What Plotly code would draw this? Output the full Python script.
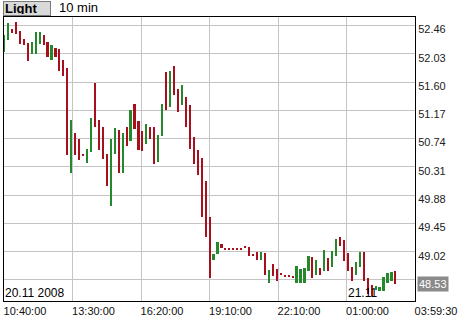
import plotly.graph_objects as go

# ---- data (10-minute bars, 20.11.2008 10:40 -> 21.11.2008) ----
opens = [52.06, 52.24, 52.41, 52.52, 52.38, 52.25, 52.20, 52.03, 52.03, 52.18,
         52.31, 52.21, 51.93, 52.12, 52.11, 51.94, 51.81, 50.21, 50.83, 50.73,
         50.50, 50.37, 50.53, 51.58, 51.02, 50.91, 50.51, 49.72, 50.50, 50.87,
         50.22, 50.91, 50.70, 51.27, 51.01, 50.85, 50.66, 50.92, 50.91, 50.39,
         50.78, 51.76, 51.22, 51.85, 51.49, 51.25, 51.38, 51.25, 50.77, 50.56,
         50.45, 50.10, 49.55, 48.89, 48.99, 49.13, 49.06, 49.07, 49.07, 49.06,
         49.07, 49.09, 49.09, 48.97, 49.02, 48.90, 49.00, 48.55, 48.83, 48.76,
         48.68, 48.66, 48.65, 48.64, 48.55, 48.55, 48.54, 48.72, 48.94, 48.66,
         48.77, 48.73, 48.93, 48.78, 48.95, 49.25, 49.20, 49.00, 48.79, 48.66,
         48.78, 49.01, 48.62, 48.52, 48.43, 48.42, 48.42, 48.54, 48.58, 48.72]
closes = [52.32, 52.50, 52.35, 52.33, 52.18, 52.17, 51.92, 52.21, 52.36, 52.36,
          52.17, 51.98, 52.16, 51.98, 51.77, 51.69, 50.49, 51.02, 50.49, 50.42,
          50.50, 50.58, 51.05, 50.92, 50.57, 50.43, 50.02, 50.73, 50.90, 50.22,
          50.82, 50.63, 51.17, 50.89, 50.57, 50.55, 50.97, 50.74, 50.36, 50.79,
          51.26, 51.17, 51.77, 51.41, 51.14, 51.55, 50.92, 50.58, 50.36, 50.19,
          49.55, 49.24, 48.62, 48.99, 49.16, 49.07, 49.06, 49.07, 49.07, 49.06,
          49.07, 49.09, 48.96, 48.97, 48.90, 49.02, 48.67, 48.74, 48.65, 48.58,
          48.68, 48.66, 48.65, 48.64, 48.80, 48.76, 48.77, 48.95, 48.62, 48.89,
          48.66, 49.04, 48.72, 49.03, 49.22, 49.11, 48.88, 48.73, 48.58, 48.87,
          49.01, 48.58, 48.37, 48.35, 48.50, 48.49, 48.63, 48.70, 48.71, 48.53]

x_tick_labels = ["10:40:00", "13:30:00", "16:20:00", "19:10:00",
                 "22:10:00", "01:00:00", "03:59:30"]
y_tick_labels = ["52.46", "52.03", "51.60", "51.17", "50.74",
                 "50.31", "49.88", "49.45", "49.02", "48.59"]
last_price = "48.53"
date_start = "20.11 2008"
date_next = "21.11"
interval_label = "10 min"
mode_label = "Light"

# ---- derived ----
n = len(opens)
idx = list(range(n))
tops = [max(o, c) for o, c in zip(opens, closes)]
bots = [min(o, c) for o, c in zip(opens, closes)]
MIN_H = 0.026
bases, heights = [], []
for t, b in zip(tops, bots):
    h = t - b
    if h < MIN_H:
        mid = (t + b) / 2
        bases.append(mid - MIN_H / 2)
        heights.append(MIN_H)
    else:
        bases.append(b)
        heights.append(h)
GREEN = "#23892a"
RED = "#a80f1c"
colors = [GREEN if c > o else RED for o, c in zip(opens, closes)]

x0, x1 = -0.075, 103.9
step = (x1 - x0) / 6
xtv = [x0 + k * step for k in range(7)]
xtv[0] += 0.001
xtv[-1] -= 0.001
ytv = [float(v) for v in y_tick_labels]

FONT = "Liberation Sans"

fig = go.Figure(go.Bar(
    x=idx, y=heights, base=bases, width=0.42,
    marker=dict(color=colors, line=dict(width=0)),
    hoverinfo="skip",
))

fig.update_layout(
    width=460, height=320,
    margin=dict(l=3, r=43, t=17, b=18),
    paper_bgcolor="white", plot_bgcolor="white",
    showlegend=False,
    font=dict(family=FONT, size=11, color="#222222"),
    xaxis=dict(
        range=[x0, x1], tickmode="array", tickvals=xtv, ticktext=x_tick_labels,
        showgrid=True, gridcolor="#c4c4c4", gridwidth=1, zeroline=False,
        showline=True, linecolor="black", linewidth=1, mirror=True,
        ticks="", ticklabelshift=21, tickfont=dict(size=11, color="#111111"),
        fixedrange=True,
    ),
    yaxis=dict(
        range=[48.27, 52.59], side="right", tickmode="array", tickvals=ytv,
        ticktext=y_tick_labels,
        showgrid=True, gridcolor="#c4c4c4", gridwidth=1, zeroline=False,
        showline=True, linecolor="black", linewidth=1, mirror=True,
        ticks="", ticklabelshift=4, tickfont=dict(size=11, color="#222222"),
        fixedrange=True,
    ),
    bargap=0,
)

annotations = [
    dict(text="<b>" + mode_label + "</b>", xref="paper", yref="paper", x=0, y=1,
         xanchor="left", yanchor="bottom", xshift=-1, yshift=1,
         showarrow=False, align="left", width=44, height=11,
         bgcolor="#d9d9d9", bordercolor="#7a7a7a", borderwidth=1, borderpad=1,
         font=dict(family=FONT, size=13, color="black")),
    dict(text=interval_label, xref="paper", yref="paper", x=0, y=1,
         xanchor="left", yanchor="bottom", xshift=53, yshift=0,
         showarrow=False, font=dict(family=FONT, size=13, color="black")),
    dict(text=date_start, xref="paper", yref="paper", x=0, y=0,
         xanchor="left", yanchor="bottom", xshift=-1, yshift=-1,
         showarrow=False, font=dict(family=FONT, size=12, color="black")),
    dict(text=date_next, xref="x", yref="paper", x=xtv[5], y=0,
         xanchor="left", yanchor="bottom", xshift=-1, yshift=-1,
         showarrow=False, font=dict(family=FONT, size=12, color="black")),
    dict(text=last_price, xref="paper", yref="y", x=1, y=float(last_price),
         xanchor="left", yanchor="middle", xshift=2,
         showarrow=False, bgcolor="#8a8a8a", borderpad=1,
         font=dict(family=FONT, size=11, color="white")),
]
fig.update_layout(annotations=annotations)

fig.write_html("out.html", config={"displayModeBar": False})
